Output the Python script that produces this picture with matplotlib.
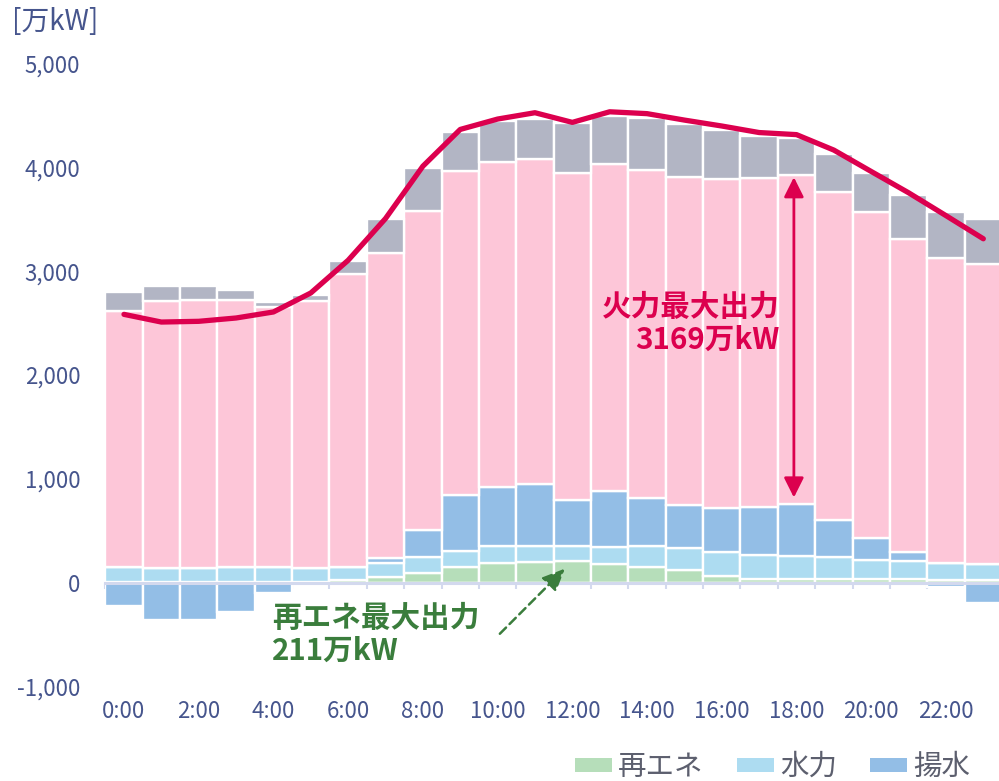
import numpy as np
import matplotlib
matplotlib.use("Agg")
import matplotlib.pyplot as plt
from matplotlib.patches import Patch

plt.rcParams['font.family'] = ['Noto Sans CJK JP', 'DejaVu Sans']

hours = list(range(24))
hour_labels = [f"{h}:00" for h in range(0, 24, 2)]

renewable = [8, 8, 8, 8, 8, 8, 29, 51, 96, 151, 190, 200, 211, 180, 148, 119, 65, 35, 33, 33, 33, 33, 30, 30]
hydro = [140, 130, 130, 140, 140, 133, 122, 139, 152, 156, 164, 156, 143, 164, 202, 213, 230, 229, 224, 218, 186, 173, 163, 150]
pumped = [-222, -357, -357, -280, -103, 0, 0, 44, 264, 539, 571, 594, 443, 537, 467, 414, 428, 469, 502, 353, 212, 87, -39, -200]
thermal = [2465, 2575, 2588, 2578, 2507, 2572, 2826, 2942, 3069, 3117, 3125, 3126, 3144, 3150, 3160, 3165, 3165, 3166, 3169, 3160, 3140, 3021, 2938, 2887]
other = [187, 141, 131, 90, 48, 55, 122, 324, 408, 380, 399, 386, 482, 463, 495, 508, 472, 407, 356, 360, 376, 418, 440, 440]
demand = [2584, 2510, 2517, 2549, 2607, 2790, 3105, 3507, 4011, 4365, 4465, 4526, 4433, 4535, 4517, 4455, 4398, 4335, 4315, 4166, 3960, 3755, 3535, 3312]

yticks = [-1000, 0, 1000, 2000, 3000, 4000, 5000]
ytick_labels = ["-1,000", "0", "1,000", "2,000", "3,000", "4,000", "5,000"]

C_GREEN = "#B6DEBA"
C_HYDRO = "#ADDCF1"
C_PUMP = "#93BEE6"
C_THERMAL = "#FDC6D8"
C_OTHER = "#B2B5C4"
C_LINE = "#DC004E"
C_TEXT = "#46558D"
C_AXIS = "#D3D9EE"

fig = plt.figure(figsize=(9.99, 7.81), dpi=100)
ax = fig.add_axes([105.3 / 999, (781 - 686.5) / 781, (1002 - 105.3) / 999, (686.5 - 63.5) / 781])

x = np.array(hours)
g = np.array(renewable, float)
h = np.array(hydro, float)
p = np.array(pumped, float)
t = np.array(thermal, float)
o = np.array(other, float)
p_pos = np.clip(p, 0, None)
p_neg = np.clip(p, None, 0)

kw = dict(width=1.0, edgecolor="white", linewidth=1.7, zorder=2)
ax.bar(x, g, color=C_GREEN, **kw)
ax.bar(x, h, bottom=g, color=C_HYDRO, **kw)
ax.bar(x, p_pos, bottom=g + h, color=C_PUMP, **kw)
ax.bar(x, p_neg, color=C_PUMP, **kw)
base = g + h + p_pos
ax.bar(x, t, bottom=base, color=C_THERMAL, **kw)
ax.bar(x, o, bottom=base + t, color=C_OTHER, **kw)

ax.plot(x, demand, color=C_LINE, lw=3.8, solid_capstyle="round", solid_joinstyle="round", zorder=5)

ax.set_xlim(-0.5, 23.5)
ax.set_ylim(-1000, 5000)

for s in ["top", "right", "left"]:
    ax.spines[s].set_visible(False)
ax.spines["bottom"].set_position(("data", 0))
ax.spines["bottom"].set_color(C_AXIS)
ax.spines["bottom"].set_linewidth(2.2)
ax.spines["bottom"].set_zorder(3)
ax.set_xticks(np.arange(-0.5, 24, 1))
ax.tick_params(axis="x", which="both", direction="out", length=4.5, width=1.5,
               color=C_AXIS, labelbottom=False)

ax.set_yticks(yticks)
ax.set_yticklabels(ytick_labels)
ax.tick_params(axis="y", length=0, pad=18, labelsize=16, labelcolor=C_TEXT)

sec = ax.secondary_xaxis(0)
sec.set_xticks(list(range(0, 24, 2)))
sec.set_xticklabels(hour_labels)
sec.tick_params(length=0, pad=10, labelsize=16, labelcolor=C_TEXT)
sec.spines["bottom"].set_visible(False)

fig.text(12 / 999, 1 - 22 / 781, "[万kW]", fontsize=20, color=C_TEXT, ha="left", va="center")

# Thermal max annotation
ax.annotate("", xy=(17.93, 3905), xytext=(17.93, 820),
            arrowprops=dict(arrowstyle="<|-|>,head_length=0.8,head_width=0.4",
                            color=C_LINE, lw=2.0, mutation_scale=15, shrinkA=0, shrinkB=0),
            zorder=6)
ax.text(17.56, 2500, "火力最大出力\n3169万kW", ha="right", va="center", multialignment="right",
        fontsize=21.3, fontweight="bold", color=C_LINE, linespacing=1.1, zorder=6)

# Renewable max annotation
C_GTXT = "#3A7D3C"
ax.annotate("", xy=(11.8, 135), xytext=(10.06, -492),
            arrowprops=dict(arrowstyle="-|>,head_length=0.9,head_width=0.4",
                            color=C_GTXT, lw=1.8, ls=(0, (3.5, 2)), mutation_scale=15,
                            shrinkA=0, shrinkB=0),
            zorder=6)
ax.text(3.96, -500, "再エネ最大出力\n211万kW", ha="left", va="center", multialignment="left",
        fontsize=21.3, fontweight="bold", color=C_GTXT, linespacing=1.1, zorder=6)

handles = [Patch(facecolor=C_GREEN, edgecolor="none"),
           Patch(facecolor=C_HYDRO, edgecolor="none"),
           Patch(facecolor=C_PUMP, edgecolor="none")]
fig.legend(handles, ["再エネ", "水力", "揚水"], loc="center left",
           bbox_to_anchor=(575 / 999, 1 - 767 / 781), ncol=3, frameon=False,
           fontsize=20.5, handlelength=1.3, handleheight=0.39, handletextpad=0.22,
           columnspacing=1.15, borderpad=0, borderaxespad=0, labelcolor="#5C5F6E")

fig.savefig("out.png", dpi=100)
